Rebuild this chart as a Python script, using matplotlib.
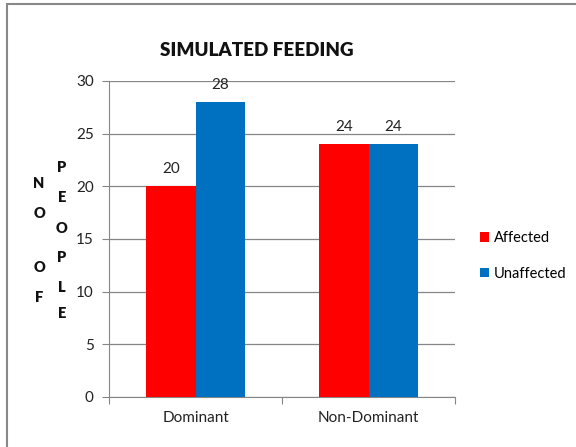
import matplotlib
matplotlib.use("Agg")
import matplotlib.pyplot as plt
from matplotlib.patches import Rectangle
import numpy as np

plt.rcParams['font.family'] = ['Lato', 'DejaVu Sans']

categories = ["Dominant", "Non-Dominant"]
affected = [20, 24]
unaffected = [28, 24]
y_ticks = [0, 5, 10, 15, 20, 25, 30]

red = "#FF0000"
blue = "#0070C0"
grid = "#868686"

fig = plt.figure(figsize=(5.76, 4.47), dpi=100)

# outer chart border
fig.add_artist(Rectangle((7 / 576, -0.05), 1.2, 1 - 4 / 447 + 0.05,
                         transform=fig.transFigure, fill=False,
                         edgecolor="#888888", linewidth=1.5))

ax = fig.add_axes([109 / 576, 1 - 397 / 447, (455 - 109) / 576, (397 - 81) / 447])

x = np.arange(len(categories))
w = 0.286
b1 = ax.bar(x - w / 2, affected, w, color=red, label="Affected", zorder=3)
b2 = ax.bar(x + w / 2, unaffected, w, color=blue, label="Unaffected", zorder=3)

for bars in (b1, b2):
    for r in bars:
        ax.text(r.get_x() + r.get_width() / 2, r.get_height() + 1.0,
                f"{int(r.get_height())}", ha="center", va="bottom",
                fontsize=11, color="#222222", zorder=4)

ax.set_xlim(-0.5, 1.5)
ax.set_ylim(0, 30)
ax.set_yticks(y_ticks)
ax.set_xticks([-0.5, 0.5, 1.5], minor=False)
ax.set_xticklabels([])
ax.set_xticks(x, minor=True)
ax.set_xticklabels(categories, minor=True, fontsize=11, color="#222222")
ax.tick_params(axis="x", which="minor", length=0, pad=10)
ax.tick_params(axis="x", which="major", length=5, color=grid, direction="out")
ax.tick_params(axis="y", length=5, color=grid, labelsize=11, labelcolor="#222222", pad=6)
ax.grid(axis="y", color=grid, linewidth=0.9, zorder=0)

for s in ("top", "right"):
    ax.spines[s].set_visible(False)
for s in ("left", "bottom"):
    ax.spines[s].set_color(grid)

fig.text(257 / 576, 1 - 51 / 447, "SIMULATED FEEDING", ha="center", va="center",
         fontsize=13.5, fontweight="heavy", color="#111111")

# stacked y-axis label letters
col1 = [("N", 183), ("O", 213), ("O", 268), ("F", 297)]
col2 = [("P", 167), ("E", 198), ("O", 228), ("P", 258), ("L", 287), ("E", 313)]
for ch, yy in col1:
    fig.text(39 / 576, 1 - yy / 447, ch, ha="center", va="center",
             fontsize=10.5, fontweight="heavy", color="#111111")
for ch, yy in col2:
    fig.text(62 / 576, 1 - yy / 447, ch, ha="center", va="center",
             fontsize=10.5, fontweight="heavy", color="#111111")

leg = fig.legend(handles=[b1, b2], loc="upper left",
                 bbox_to_anchor=(467 / 576, 1 - 218 / 447), frameon=False,
                 fontsize=10.5, handlelength=0.6, handleheight=0.6,
                 handletextpad=0.35, labelspacing=1.5)

fig.savefig("out.png", dpi=100)
